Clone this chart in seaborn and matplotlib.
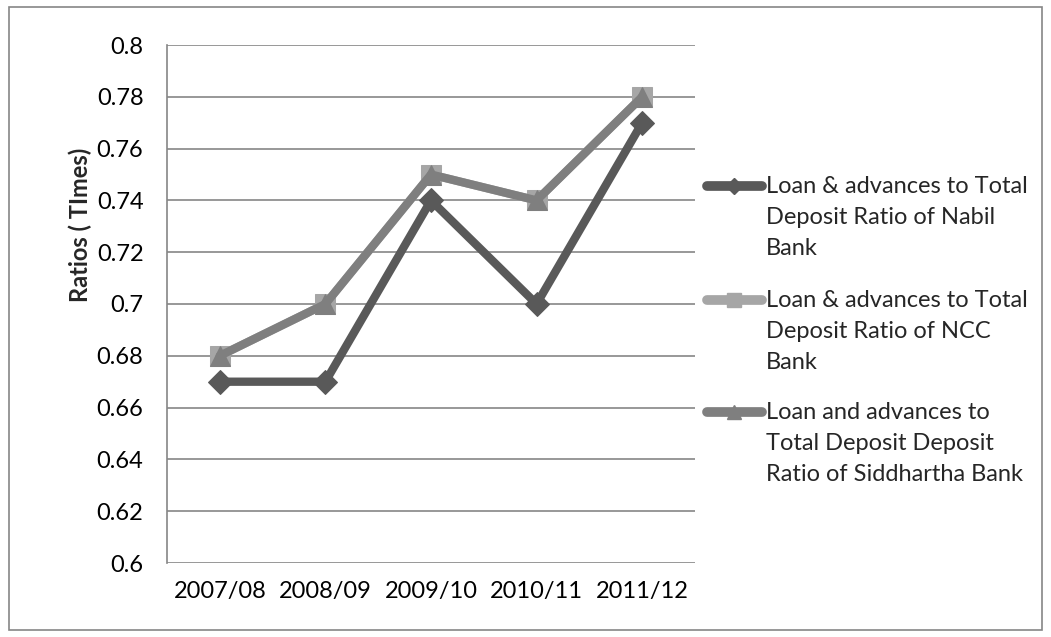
import pandas as pd
import numpy as np
import matplotlib
matplotlib.use("Agg")
import matplotlib.pyplot as plt
from matplotlib.lines import Line2D
import seaborn as sns

# ── Data ───────────────────────────────────────────────────────
years = ["2007/08", "2008/09", "2009/10", "2010/11", "2011/12"]
nabil = [0.67, 0.67, 0.74, 0.70, 0.77]
ncc = [0.68, 0.70, 0.75, 0.74, 0.78]
siddhartha = [0.68, 0.70, 0.75, 0.74, 0.78]

series_names = [
    "Loan & advances to Total\nDeposit Ratio of Nabil\nBank",
    "Loan & advances to Total\nDeposit Ratio of NCC\nBank",
    "Loan and advances to\nTotal Deposit Deposit\nRatio of Siddhartha Bank",
]
series_vals = [nabil, ncc, siddhartha]
colors = ["#595959", "#a6a6a6", "#7f7f7f"]
markers = ["D", "s", "^"]
msizes = [12, 15, 15]

sns.set_theme(style="white")
plt.rcParams["font.family"] = ["Lato", "DejaVu Sans"]
FS = 17

fig = plt.figure(figsize=(10.51, 6.37), dpi=100)
ax = fig.add_axes([167 / 1051, 1 - 563 / 637, (695 - 167) / 1051, (563 - 45) / 637])

x = np.arange(len(years))
for name, vals, c, m, ms in zip(series_names, series_vals, colors, markers, msizes):
    df = pd.DataFrame({"x": x, "y": vals})
    sns.lineplot(data=df, x="x", y="y", ax=ax, color=c, linewidth=6,
                 marker=m, markersize=ms, markeredgecolor=c, legend=False)

ax.set_xlim(-0.5, len(years) - 0.5)
ax.set_ylim(0.6, 0.8)
ax.set_yticks(np.arange(0.6, 0.801, 0.02))
ax.set_yticklabels(["0.6", "0.62", "0.64", "0.66", "0.68", "0.7", "0.72",
                    "0.74", "0.76", "0.78", "0.8"])
ax.set_xticks(x)
ax.set_xticklabels(years)
ax.tick_params(axis="y", labelsize=FS, colors="black", length=0, pad=17)
ax.tick_params(axis="x", labelsize=FS, colors="black", length=0, pad=13)
ax.yaxis.grid(True, color="#868686", linewidth=1.2)
ax.set_axisbelow(True)
for s in ["top", "right", "bottom"]:
    ax.spines[s].set_visible(False)
ax.spines["left"].set_color("#868686")
ax.spines["left"].set_linewidth(1.2)
ax.set_xlabel("")
ax.set_ylabel("")
fig.text(80 / 1051, 1 - 225 / 637, "Ratios ( TImes)", fontsize=FS, fontweight="bold",
         rotation=90, ha="center", va="center")

# ── Legend: handle aligned with the first line of each label ──
leg_y = [186, 300, 412]
for name, c, m, ms, yy in zip(series_names, colors, markers, msizes, leg_y):
    fy = 1 - yy / 637
    fig.add_artist(Line2D([707 / 1051, 762 / 1051], [fy, fy], transform=fig.transFigure,
                          color=c, linewidth=7, solid_capstyle="round"))
    fig.add_artist(Line2D([734 / 1051], [fy], transform=fig.transFigure,
                          color=c, marker=m, markersize=ms * 0.7, markeredgecolor=c))
    fig.text(766 / 1051, fy + 10 / 637, name, fontsize=FS, va="top", ha="left",
             linespacing=1.6)

fig.patches.append(plt.Rectangle((9 / 1051, 7 / 637), 1033 / 1051, 623 / 637,
                                 transform=fig.transFigure, fill=False,
                                 edgecolor="#868686", linewidth=1.2))

fig.savefig("out.png", dpi=100, facecolor="white")
